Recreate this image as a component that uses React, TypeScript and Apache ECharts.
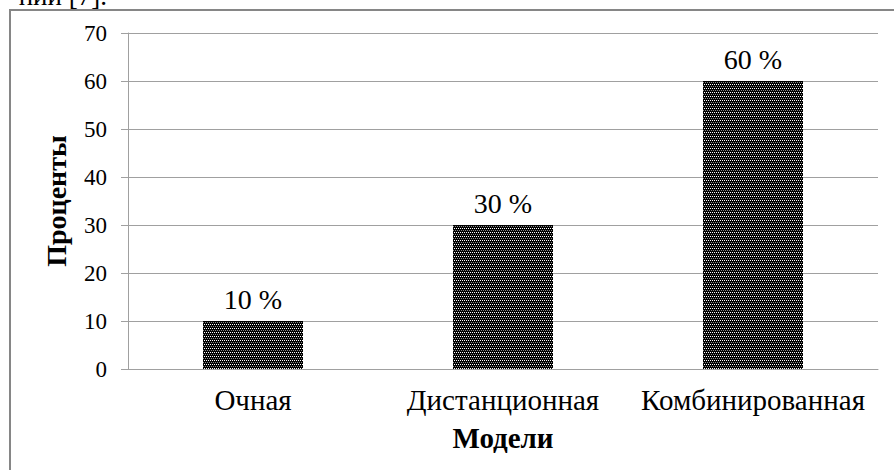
import React, { useEffect, useRef } from "react";
import * as echarts from "echarts";

const categories = ["Очная", "Дистанционная", "Комбинированная"];
const values = [10, 30, 60];
const yTicks = [0, 10, 20, 30, 40, 50, 60, 70];
const yTitle = "Проценты";
const xTitle = "Модели";
const topFragment = "ний [7].";

function makePattern(): HTMLCanvasElement {
  const c = document.createElement("canvas");
  c.width = 4;
  c.height = 4;
  const ctx = c.getContext("2d")!;
  ctx.fillStyle = "#000000";
  ctx.fillRect(0, 0, 4, 4);
  ctx.fillStyle = "#ffffff";
  ctx.fillRect(0, 0, 1, 1);
  ctx.fillRect(2, 0, 1, 1);
  ctx.fillStyle = "#8a8a8a";
  ctx.fillRect(1, 2, 1, 1);
  ctx.fillRect(3, 2, 1, 1);
  return c;
}

export default function App() {
  const ref = useRef<HTMLDivElement>(null);
  useEffect(() => {
    if (!ref.current) return;
    const chart = echarts.init(ref.current, null, { renderer: "svg" });
    const font = "'Liberation Serif', 'Times New Roman', serif";
    chart.setOption({
      animation: false,
      backgroundColor: "#ffffff",
      graphic: [
        {
          type: "rect",
          shape: { x: 10, y: 10, width: 900, height: 500 },
          style: { fill: "none", stroke: "#868686", lineWidth: 2 },
          silent: true,
        },
        {
          type: "text",
          x: 107,
          y: 9,
          style: {
            text: topFragment,
            font: `27px ${font}`,
            fill: "#000",
            align: "right",
            verticalAlign: "bottom",
          },
        },
      ],
      grid: { left: 128, right: 16, top: 33, bottom: 101, containLabel: false },
      xAxis: {
        type: "category",
        data: categories,
        axisLine: { show: true, lineStyle: { color: "#a0a0a0", width: 1 } },
        axisTick: { show: false },
        axisLabel: {
          color: "#000",
          fontFamily: font,
          fontSize: 29,
          margin: 16,
          interval: 0,
          hideOverlap: false,
        },
        name: xTitle,
        nameLocation: "middle",
        nameGap: 54,
        nameTextStyle: { color: "#000", fontFamily: font, fontSize: 29, fontWeight: "bold" },
      },
      yAxis: {
        type: "value",
        min: yTicks[0],
        max: yTicks[yTicks.length - 1],
        interval: 10,
        axisLine: { show: true, lineStyle: { color: "#a0a0a0", width: 1 } },
        axisTick: { show: true, length: 7, lineStyle: { color: "#a0a0a0" } },
        splitLine: { show: true, lineStyle: { color: "#a0a0a0", width: 1 } },
        axisLabel: {
          color: "#000",
          fontFamily: font,
          fontSize: 23,
          margin: 21,
        },
        name: yTitle,
        nameLocation: "middle",
        nameRotate: 90,
        nameGap: 58,
        nameTextStyle: { color: "#000", fontFamily: font, fontSize: 28, fontWeight: "bold" },
      },
      series: [
        {
          type: "bar",
          data: values,
          barWidth: 100,
          itemStyle: {
            color: { image: makePattern(), repeat: "repeat" },
          },
          label: {
            show: true,
            position: "top",
            distance: 8,
            formatter: (p: any) => `${p.value} %`,
            color: "#000",
            fontFamily: font,
            fontSize: 28,
          },
        },
      ],
    });
    return () => chart.dispose();
  }, []);
  return (
    <div
      ref={ref}
      style={{ position: "fixed", left: 0, top: 0, width: 894, height: 470 }}
    />
  );
}
